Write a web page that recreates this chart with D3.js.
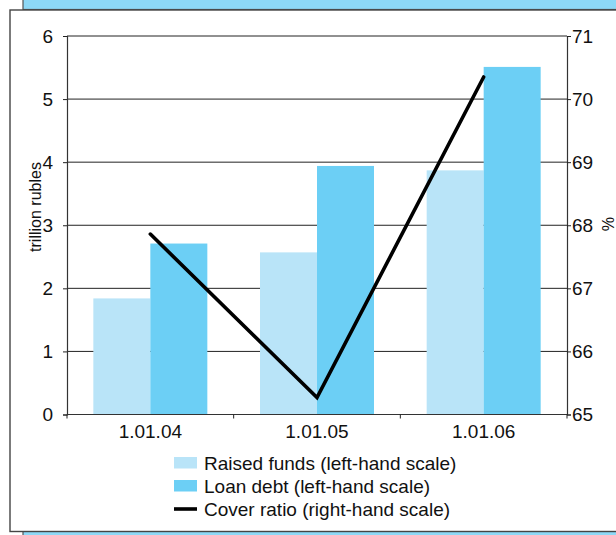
<!DOCTYPE html>
<html>
<head>
<meta charset="utf-8">
<script src="https://cdn.jsdelivr.net/npm/d3@7"></script>
<style>
  body { margin: 0; background: #fff; }
  svg { display: block; font-family: "Liberation Sans", Arial, sans-serif; }
</style>
</head>
<body>
<svg id="chart"></svg>
<script>
var w = 616;
var h = 535;

// data
let categories = ["1.01.04", "1.01.05", "1.01.06"];
let raisedFunds = [1.84, 2.57, 3.87];
let loanDebt = [2.71, 3.94, 5.51];
let coverRatio = [67.86, 65.27, 70.35];
let leftTicks = [0, 1, 2, 3, 4, 5, 6];
let rightTicks = [65, 66, 67, 68, 69, 70, 71];
let legendLabels = ["Raised funds (left-hand scale)", "Loan debt (left-hand scale)", "Cover ratio (right-hand scale)"];

var lightBlue = "#b9e4f8";
var darkBlue = "#6ccff5";
var bandBlue = "#8dd8f6";

var svg = d3.select("#chart")
    .attr("width", w)
    .attr("height", h);

// frame / page bits
svg.append("rect").attr("x", 23).attr("y", -2).attr("width", 600).attr("height", 11.5)
    .attr("fill", bandBlue).attr("stroke", "#555").attr("stroke-width", 1.2);
svg.append("rect").attr("x", 23).attr("y", 531).attr("width", 600).attr("height", 10)
    .attr("fill", bandBlue).attr("stroke", "#555").attr("stroke-width", 1.2);
svg.append("rect").attr("x", 10).attr("y", 10).attr("width", 620).attr("height", 521.5)
    .attr("fill", "#fff").attr("stroke", "#444").attr("stroke-width", 1.4);

var plotL = 67, plotR = 567, plotT = 36, plotB = 414.5;

var x = d3.scaleBand()
    .domain(categories)
    .range([plotL, plotR])
    .paddingInner(0.316)
    .paddingOuter(0.158);
var xs = d3.scaleBand()
    .domain(["raised", "loan"])
    .range([0, x.bandwidth()]);
var yL = d3.scaleLinear().domain([0, 6]).range([plotB, plotT]);
var yR = d3.scaleLinear().domain([65, 71]).range([plotB, plotT]);

// gridlines
svg.append("g")
    .selectAll("line")
    .data(leftTicks.slice(1))
    .enter()
    .append("line")
    .attr("x1", plotL).attr("x2", plotR)
    .attr("y1", d => yL(d)).attr("y2", d => yL(d))
    .attr("stroke", "#222").attr("stroke-width", 1);

// bars
var groups = svg.append("g")
    .selectAll("g")
    .data(categories)
    .enter()
    .append("g")
    .attr("transform", d => "translate(" + x(d) + ",0)");
groups.append("rect")
    .attr("x", xs("raised"))
    .attr("width", xs.bandwidth())
    .attr("y", (d, i) => yL(raisedFunds[i]))
    .attr("height", (d, i) => yL(0) - yL(raisedFunds[i]))
    .attr("fill", lightBlue);
groups.append("rect")
    .attr("x", xs("loan"))
    .attr("width", xs.bandwidth())
    .attr("y", (d, i) => yL(loanDebt[i]))
    .attr("height", (d, i) => yL(0) - yL(loanDebt[i]))
    .attr("fill", darkBlue);

// axes
function styleAxis(g) {
    g.selectAll("path").attr("stroke", "#333").attr("stroke-width", 1.2);
    g.selectAll("line").attr("stroke", "#222");
    g.selectAll("text").attr("fill", "#111").style("font-size", "19px");
}
svg.append("g")
    .attr("transform", "translate(" + plotL + ",0)")
    .call(d3.axisLeft(yL).tickValues(leftTicks).tickFormat(d3.format("d"))
        .tickSize(4).tickSizeOuter(4).tickPadding(10))
    .call(styleAxis);
svg.append("g")
    .attr("transform", "translate(" + plotR + ",0)")
    .call(d3.axisRight(yR).tickValues(rightTicks).tickFormat(d3.format("d"))
        .tickSize(4).tickSizeOuter(4).tickPadding(1))
    .call(styleAxis);
var xAxis = svg.append("g")
    .attr("transform", "translate(0," + plotB + ")")
    .call(d3.axisBottom(x).tickSize(0).tickPadding(10.5))
    .call(styleAxis);
xAxis.select("path").remove();
xAxis.append("line")
    .attr("x1", plotL).attr("x2", plotR)
    .attr("stroke", "#333").attr("stroke-width", 1.2);
xAxis.selectAll(".sep")
    .data(d3.range(categories.length + 1))
    .enter()
    .append("line")
    .attr("class", "sep")
    .attr("x1", i => plotL + i * x.step())
    .attr("x2", i => plotL + i * x.step())
    .attr("y1", 0).attr("y2", 4)
    .attr("stroke", "#222");

// cover ratio line
var line = d3.line()
    .x((d, i) => x(categories[i]) + x.bandwidth() / 2)
    .y(d => yR(d));
svg.append("path")
    .datum(coverRatio)
    .attr("d", line)
    .attr("fill", "none")
    .attr("stroke", "#000")
    .attr("stroke-width", 3.6)
    .attr("stroke-linecap", "round")
    .attr("stroke-linejoin", "miter");

// axis titles
svg.append("text")
    .attr("transform", "translate(41,207) rotate(-90)")
    .attr("text-anchor", "middle")
    .style("font-size", "16px")
    .attr("fill", "#111")
    .text("trillion rubles");
svg.append("text")
    .attr("transform", "translate(602,224) rotate(90)")
    .attr("text-anchor", "middle")
    .style("font-size", "16px")
    .attr("fill", "#111")
    .text("%");

// legend
var legend = svg.append("g")
    .selectAll("g")
    .data(legendLabels)
    .enter()
    .append("g")
    .attr("transform", (d, i) => "translate(174," + (463 + i * 23) + ")");
legend.each(function (d, i) {
    var g = d3.select(this);
    if (i < 2) {
        g.append("rect").attr("x", 0).attr("y", -6).attr("width", 23).attr("height", 11.5)
            .attr("fill", i == 0 ? lightBlue : darkBlue);
    } else {
        g.append("line").attr("x1", 0).attr("x2", 23).attr("y1", 0).attr("y2", 0)
            .attr("stroke", "#000").attr("stroke-width", 3.6);
    }
});
legend.append("text")
    .attr("x", 30)
    .attr("dy", "0.35em")
    .style("font-size", "19px")
    .attr("fill", "#111")
    .text(d => d);
</script>
</body>
</html>
